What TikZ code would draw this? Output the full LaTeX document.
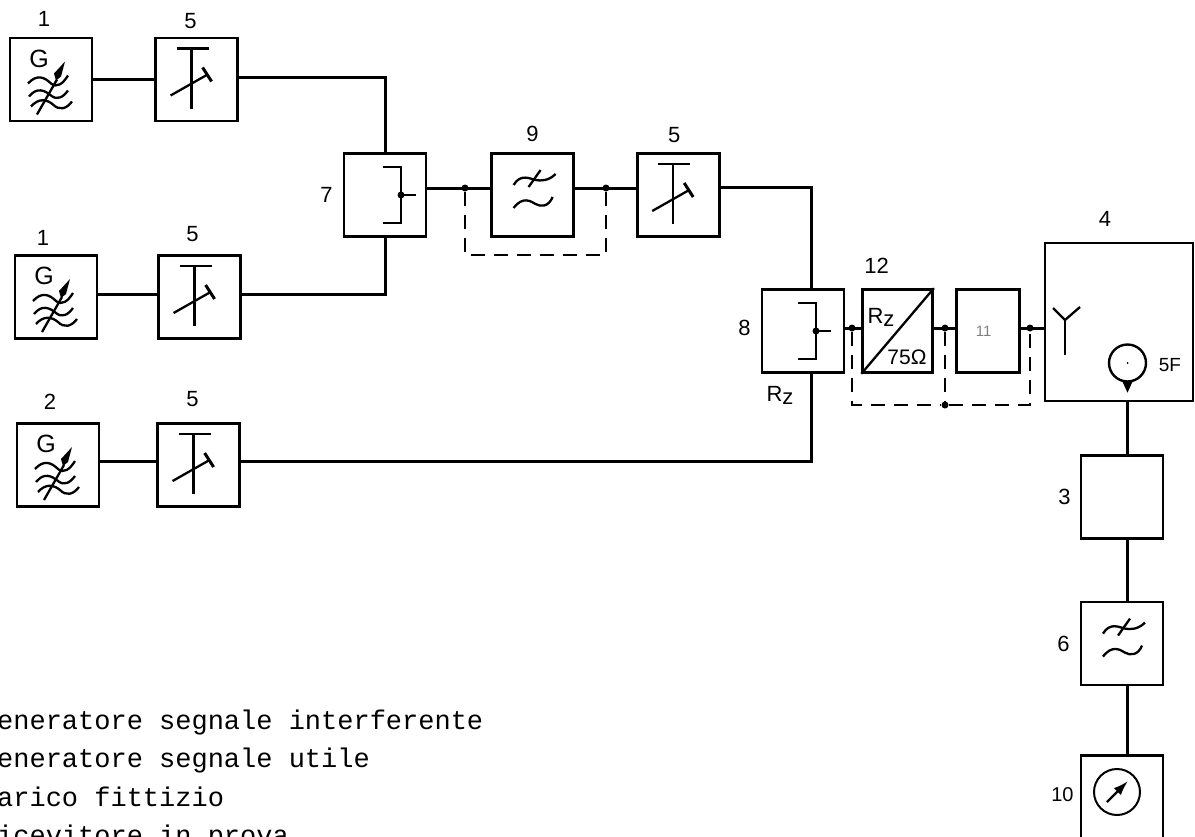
\documentclass[tikz,border=0pt]{standalone}
\usepackage{fontspec}
\setmainfont{Liberation Sans}
\newfontfamily\legendfont{Liberation Mono}
\usetikzlibrary{arrows.meta, positioning, calc}

\begin{document}
\begin{tikzpicture}[
  x=1pt, y=1pt,
  >=Latex,
  font=\fontsize{22}{26}\selectfont,
  block/.style={
    rectangle, draw, line width=2.6pt,
    inner sep=0pt,
    minimum width=82pt,
    minimum height=83pt
  },
  match/.style={block, minimum width=70pt},
  pad/.style={block, minimum width=63pt},
  rxbox/.style={block, minimum width=148pt, minimum height=158pt},
  wire/.style={line width=3pt},
  shunt/.style={line width=2pt, dash pattern=on 14pt off 9pt},
  symb/.style={line width=2.3pt},
  dot/.style={circle, fill=black, inner sep=0pt, minimum size=7pt},
  num/.style={inner sep=0pt},
  legend/.style={inner sep=0pt, anchor=base west, font=\legendfont\fontsize{27}{30}\selectfont},
  atten/.pic={
    \draw[symb] (-20,31) -- (12,31);
    \draw[symb] (-5,31) -- (-5,-29);
    \draw[symb] (-26,-16) -- (11,5);
    \draw[line width=3pt] (6,12) -- (15,-2);
  },
  combiner/.pic={
    \draw[symb] (-2,28) -- (16,28) -- (16,-28) -- (-2,-28);
    \draw[symb] (16,0) -- (31,0);
    \node[dot] at (16,0) {};
  },
  lowpass/.pic={
    \draw[symb] (-19,10) .. controls (-12,22) and (-2,16) .. (3,15) .. controls (8,14) and (16,14) .. (23,21);
    \draw[symb] (-19,-13) .. controls (-10,-1) and (-2,-6) .. (3,-9) .. controls (8,-12) and (16,-12) .. (20,-2);
    \draw[symb] (-4,8) -- (8,25);
  },
  siggen/.pic={
    \node[inner sep=0pt, font=\fontsize{25}{29}\selectfont] at (-12,21) {G};
    \draw[symb] (-23,-4) .. controls (-14,6) and (-6,2) .. (0,-4) .. controls (6,-9) and (12,-4) .. (17,4);
    \draw[symb] (-22,-17) .. controls (-14,-7) and (-6,-11) .. (0,-16) .. controls (6,-21) and (12,-18) .. (17,-11);
    \draw[symb] (-20,-27) .. controls (-12,-18) and (-4,-20) .. (2,-25) .. controls (8,-31) and (15,-30) .. (21,-22);
    \draw[symb] (-14,-35) -- (6,0);
    \fill (14,18) -- (10,3) -- (5,-1) -- (3,6) -- cycle;
  },
]
\useasboundingbox (0,0) rectangle (1195,-836);
\clip (0,0) rectangle (1195,-836);

% --- Generators and attenuators ---
\node[block] (GA) at (51,-79.5) {};
\node[block, right=61pt of GA] (ATA) {};
\node[block] (GB) at (56,-297) {};
\node[block, right=59pt of GB] (ATB) {};
\node[block] (GC) at (58,-465) {};
\node[block, right=56pt of GC] (ATC) {};

% --- First combiner, filter, attenuator ---
\node[block] (COMA) at (385,-195) {};
\node[block, right=63pt of COMA] (FILA) {};
\node[block, right=61pt of FILA] (ATM) {};

% --- Second combiner up to the receiver ---
\node[block] (COMB) at (803,-331) {};
\node[match, right=16pt of COMB] (MATCH) {};
\node[pad, right=21pt of MATCH] (PAD) {};
\node[rxbox] (RX) at (1119,-322) {};

% --- Output chain ---
\node[block] (LOAD) at (1122,-497) {};
\node[block, below=61pt of LOAD] (FILB) {};
\node[block, below=68pt of FILB] (METER) {};

% --- Symbols ---
\pic at (GA) {siggen};
\pic at (GB) {siggen};
\pic at (GC) {siggen};
\pic at (ATA) {atten};
\pic at (ATB) {atten};
\pic at (ATC) {atten};
\pic at (ATM) {atten};
\pic at (COMA) {combiner};
\pic at ($(COMB)+(-3,0)$) {combiner};
\pic at (FILA) {lowpass};
\pic at (FILB) {lowpass};

\draw[symb] (MATCH.south west) -- (MATCH.north east);
\node[inner sep=0pt] (RZA) at (881,-317) {R\raisebox{-3pt}{z}};
\node[inner sep=0pt, font=\fontsize{21}{25}\selectfont] (OHM) at (907,-357) {75Ω};

\coordinate (ANT) at (1065,-320);
\draw[symb] (1053,-308) -- (ANT) -- (1080,-307);
\draw[symb] (ANT) -- (1065,-355);
\node[circle, draw, line width=2.4pt, inner sep=0pt, minimum size=37pt] (SPK) at (1127.5,-363) {};
\node[circle, fill=black, inner sep=0pt, minimum size=2pt] (SPKC) at (SPK) {};
\fill ($(SPK.south)+(-5,1)$) -- ($(SPK.south)+(5,1)$) -- ($(SPK.south)+(0,-10)$) -- cycle;
\node[inner sep=0pt, font=\fontsize{19}{22}\selectfont] (SF) at (1170,-365) {5F};

\node[circle, draw, line width=2pt, inner sep=0pt, minimum size=46pt] (DIAL) at (1117,-792) {};
\draw[symb, -{Latex[length=15pt,width=10pt]}] ($(DIAL)+(-10,-10)$) -- ($(DIAL)+(11,11)$);

% --- Numbers ---
\node[num, above=10pt of GA, xshift=-7pt] (NA) {1};
\node[num, above=8pt of ATA, xshift=-6pt] (NB) {5};
\node[num, above=9pt of GB, xshift=-13pt] (NC) {1};
\node[num, above=12pt of ATB, xshift=-7pt] (ND) {5};
\node[num, above=13pt of GC, xshift=-8pt] (NE) {2};
\node[num, above=15pt of ATC, xshift=-6pt] (NF) {5};
\node[num, left=10pt of COMA] (NG) {7};
\node[num, above=10pt of FILA] (NH) {9};
\node[num, above=9pt of ATM, xshift=-4pt] (NI) {5};
\node[num, left=10pt of COMB, yshift=3pt] (NJ) {8};
\node[num, below=12pt of COMB, xshift=-23pt] (NK) {R\raisebox{-3pt}{z}};
\node[num, above=15pt of MATCH, xshift=-21pt] (NL) {12};
\node[num, gray, font=\fontsize{15}{18}\selectfont, xshift=-4pt] (NM) at (PAD) {11};
\node[num, above=15pt of RX, xshift=-14pt] (NN) {4};
\node[num, left=9pt of LOAD] (NO) {3};
\node[num, left=10pt of FILB] (NP) {6};
\node[num, left=6pt of METER, yshift=3pt, font=\fontsize{20}{24}\selectfont] (NQ) {10};

% --- Wires ---
\coordinate (TA) at (385,-77);
\coordinate (TB) at (385,-294);
\coordinate (TC) at (811,-187);
\coordinate (TD) at (811,-461);

\draw[wire] (GA) -- (ATA);
\draw[wire] (GB.east |- TB) -- (ATB.west |- TB);
\draw[wire] (GC.east |- TD) -- (ATC.west |- TD);
\draw[wire] (ATA.east |- TA) -- (TA) -- (COMA.north);
\draw[wire] (ATB.east |- TB) -- (TB) -- (COMA.south);

\node[dot] (JA) at (465,-188) {};
\node[dot] (JB) at (606,-188) {};
\draw[wire] (COMA.east |- JA) -- (FILA.west |- JA);
\draw[wire] (FILA.east |- JB) -- (ATM.west |- JB);
\draw[wire] (ATM.east |- TC) -- (TC) -- (TC |- COMB.north);
\draw[wire] (ATC.east |- TD) -- (TD) -- (TD |- COMB.south);

\node[dot] (JC) at (852,-328) {};
\node[dot] (JD) at (945,-328) {};
\node[dot] (JE) at (1030,-328) {};
\node[dot] (JF) at (945,-405) {};
\draw[wire] (COMB.east |- JC) -- (MATCH.west |- JC);
\draw[wire] (MATCH.east |- JD) -- (PAD.west |- JD);
\draw[wire] (PAD.east |- JE) -- (RX.west |- JE);

\draw[wire] (SPK |- RX.south) -- (SPK |- LOAD.north);
\draw[wire] (SPK |- LOAD.south) -- (SPK |- FILB.north);
\draw[wire] (SPK |- FILB.south) -- (SPK |- METER.north);

% --- Dashed links ---
\coordinate (DA) at (465,-255);
\draw[shunt] (JA) |- (DA) -| (JB);
\draw[shunt] (JC) |- (JF) -| (JE);
\draw[shunt] (JD) -- (JF);

% --- Legend ---
\node[legend] (LEGA) at (-3,-729) {eneratore segnale interferente};
\node[legend] (LEGB) at (-3,-767.5) {eneratore segnale utile};
\node[legend] (LEGC) at (-3,-806) {arico fittizio};
\node[legend] (LEGD) at (-3,-844.5) {icevitore in prova};

\end{tikzpicture}
\end{document}
